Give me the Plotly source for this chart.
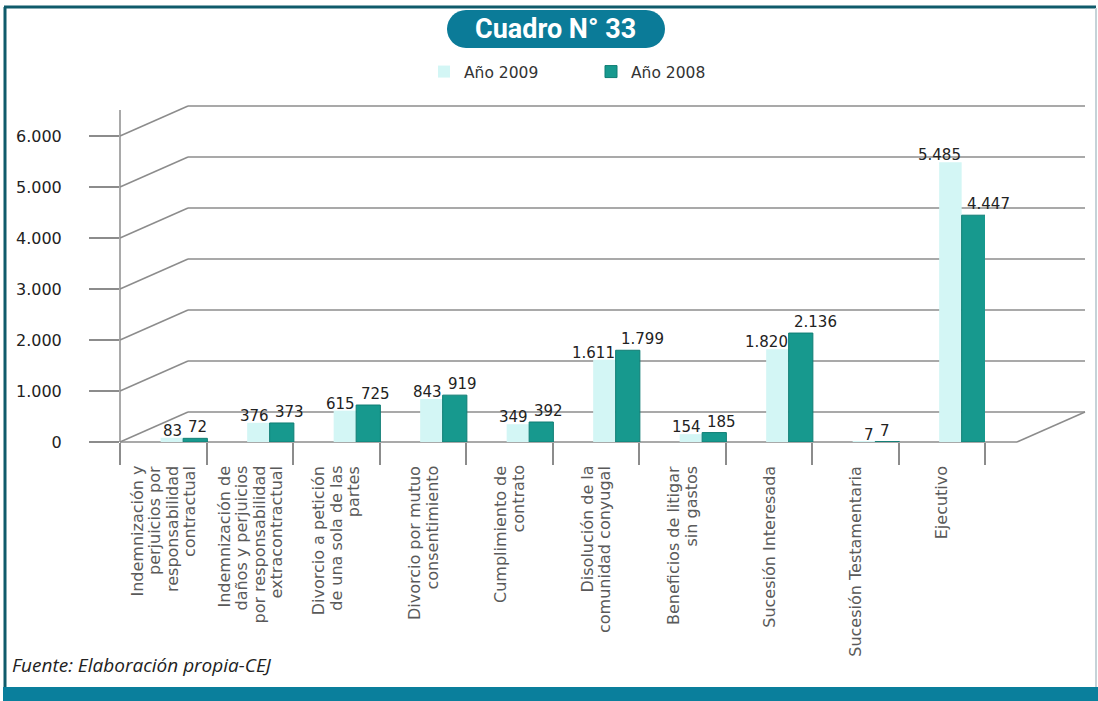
import plotly.graph_objects as go

categories = [
    "Indemnización y<br>perjuicios por<br>responsabilidad<br>contractual",
    "Indemnización de<br>daños y perjuicios<br>por responsabilidad<br>extracontractual",
    "Divorcio a petición<br>de una sola de las<br>partes",
    "Divorcio por mutuo<br>consentimiento",
    "Cumplimiento de<br>contrato",
    "Disolución de la<br>comunidad conyugal",
    "Beneficios de litigar<br>sin gastos",
    "Sucesión Interesada",
    "Sucesión Testamentaria",
    "Ejecutivo",
]
values_2009 = [83, 376, 615, 843, 349, 1611, 154, 1820, 7, 5485]
values_2008 = [72, 373, 725, 919, 392, 1799, 185, 2136, 7, 4447]
tick_values = [0, 1000, 2000, 3000, 4000, 5000, 6000]
tick_labels = ["0", "1.000", "2.000", "3.000", "4.000", "5.000", "6.000"]

W, H = 1098, 701
L, R, T, B = 120, 113, 136, 259
PW, PH = W - L - R, H - T - B
YMAX = 6000


def px(x):
    return (x - L) / PW


def py(y):
    return (H - B - y) / PH


def fmt(v):
    return f"{v:,}".replace(",", ".")


C2009 = "#d3f6f5"
C2008 = "#17998e"
GRID = "#8c8c8c"
FONT = "DejaVu Sans, Open Sans, sans-serif"
FONT2 = "Open Sans, DejaVu Sans, sans-serif"

fig = go.Figure()
fig.add_trace(go.Bar(
    x=categories, y=values_2009, name="Año 2009",
    marker=dict(color=C2009, line=dict(width=0)),
    offset=-0.03, width=0.26, hoverinfo="y",
))
fig.add_trace(go.Bar(
    x=categories, y=values_2008, name="Año 2008",
    marker=dict(color=C2008, line=dict(color="#0f7d74", width=1)),
    offset=0.23, width=0.28, hoverinfo="y",
))

shapes = []
depth_dx, depth_dy = 68, 30
back_right = 1085
for v in tick_values:
    yf = v / YMAX
    yb = yf + depth_dy / PH
    shapes.append(dict(type="line", xref="paper", yref="paper",
                       x0=px(L), y0=yf, x1=px(L + depth_dx), y1=yb,
                       line=dict(color=GRID, width=1.5), layer="below"))
    shapes.append(dict(type="line", xref="paper", yref="paper",
                       x0=px(L + depth_dx), y0=yb, x1=px(back_right), y1=yb,
                       line=dict(color=GRID, width=1.5), layer="below"))
# floor front edge
floor_end = 1017
shapes.append(dict(type="line", xref="paper", yref="paper",
                   x0=px(L), y0=0, x1=px(floor_end), y1=0,
                   line=dict(color=GRID, width=1.5), layer="below"))
shapes.append(dict(type="line", xref="paper", yref="paper",
                   x0=px(floor_end), y0=0, x1=px(back_right), y1=depth_dy / PH,
                   line=dict(color=GRID, width=1.5), layer="below"))
# vertical axis line
shapes.append(dict(type="line", xref="paper", yref="paper",
                   x0=0, y0=py(442), x1=0, y1=py(110),
                   line=dict(color=GRID, width=1.5), layer="below"))
# frame
shapes.append(dict(type="line", xref="paper", yref="paper",
                   x0=px(4), y0=py(7), x1=px(1096), y1=py(7),
                   line=dict(color="#0f5b6b", width=3)))
shapes.append(dict(type="line", xref="paper", yref="paper",
                   x0=px(5), y0=py(7), x1=px(5), y1=py(687),
                   line=dict(color="#0f5b6b", width=3)))
shapes.append(dict(type="line", xref="paper", yref="paper",
                   x0=px(1096), y0=py(8), x1=px(1096), y1=py(687),
                   line=dict(color="#c5d3d8", width=2)))
shapes.append(dict(type="rect", xref="paper", yref="paper",
                   x0=px(3), y0=py(687), x1=px(1098), y1=py(701),
                   fillcolor="#0a7f9c", line=dict(width=0)))

# title pill (rounded rectangle)
x0, x1, y0, y1 = 447, 665, 10, 48
r = (y1 - y0) / 2
k = 0.5523 * r
pts = [
    ("M", [(x0 + r, y0)]),
    ("L", [(x1 - r, y0)]),
    ("C", [(x1 - r + k, y0), (x1, y0 + r - k), (x1, y0 + r)]),
    ("C", [(x1, y0 + r + k), (x1 - r + k, y1), (x1 - r, y1)]),
    ("L", [(x0 + r, y1)]),
    ("C", [(x0 + r - k, y1), (x0, y0 + r + k), (x0, y0 + r)]),
    ("C", [(x0, y0 + r - k), (x0 + r - k, y0), (x0 + r, y0)]),
]
path = ""
for cmd, ps in pts:
    path += cmd + " ".join(f"{px(a):.5f},{py(b):.5f}" for a, b in ps) + " "
path += "Z"
shapes.append(dict(type="path", xref="paper", yref="paper", path=path,
                   fillcolor="#0b7b98", line=dict(width=0)))

annotations = []
annotations.append(dict(text="<b>Cuadro N° 33</b>", xref="paper", yref="paper",
                        x=px(555), y=py(29), xanchor="center", yanchor="middle",
                        showarrow=False,
                        font=dict(family="Roboto, sans-serif", size=27, color="white")))
annotations.append(dict(text="<i>Fuente: Elaboración propia-CEJ</i>", xref="paper", yref="paper",
                        x=px(10), y=py(665), xanchor="left", yanchor="middle",
                        showarrow=False, font=dict(family=FONT2, size=19, color="#222")))

# category labels: rotated, lines top-aligned
LINE_GAP = 17.5
for c in categories:
    lines = c.split("<br>")
    n = len(lines)
    for i, line in enumerate(lines):
        annotations.append(dict(text=line, x=c, xref="x", y=py(465), yref="paper",
                                xanchor="center", yanchor="top", textangle=-90,
                                xshift=(i - (n - 1) / 2) * LINE_GAP, showarrow=False,
                                borderpad=0,
                                font=dict(family=FONT, size=16, color="#5a5a5a")))

unit = PW / len(categories)
for c, v in zip(categories, values_2009):
    annotations.append(dict(text=fmt(v), x=c, y=v, xref="x", yref="y",
                            xanchor="right", yanchor="bottom", showarrow=False,
                            xshift=0.23 * unit + 1, yshift=-4,
                            font=dict(family=FONT, size=15, color="#222")))
for c, v in zip(categories, values_2008):
    annotations.append(dict(text=fmt(v), x=c, y=v, xref="x", yref="y",
                            xanchor="left", yanchor="bottom", showarrow=False,
                            xshift=0.23 * unit + 3, yshift=0,
                            font=dict(family=FONT, size=15, color="#222")))

fig.update_layout(
    width=W, height=H,
    margin=dict(l=L, r=R, t=T, b=B, autoexpand=False),
    paper_bgcolor="white", plot_bgcolor="rgba(0,0,0,0)",
    barmode="overlay",
    shapes=shapes, annotations=annotations,
    showlegend=True,
    legend=dict(orientation="h", x=px(424), y=py(72), xanchor="left", yanchor="middle",
                font=dict(family=FONT, size=15.5, color="#333"),
                entrywidth=122, entrywidthmode="pixels", bgcolor="rgba(0,0,0,0)",
                itemclick=False, itemdoubleclick=False),
    xaxis=dict(
        range=[-0.5, len(categories) - 0.5],
        tickson="boundaries", ticks="outside", ticklen=22,
        tickcolor=GRID, tickwidth=1.5, showgrid=False, showline=False, zeroline=False,
        showticklabels=False, fixedrange=True,
    ),
    yaxis=dict(
        range=[0, YMAX], tickvals=tick_values, ticktext=tick_labels,
        ticks="outside", ticklen=30, tickcolor=GRID, tickwidth=1.5,
        ticklabelstandoff=24, showgrid=False, showline=False, zeroline=False,
        tickfont=dict(family=FONT, size=16, color="#222"),
        fixedrange=True,
    ),
)

fig.write_html(
    "out.html",
    config={"displayModeBar": False},
    post_script="document.body.style.margin='0';document.body.style.overflow='hidden';",
)
